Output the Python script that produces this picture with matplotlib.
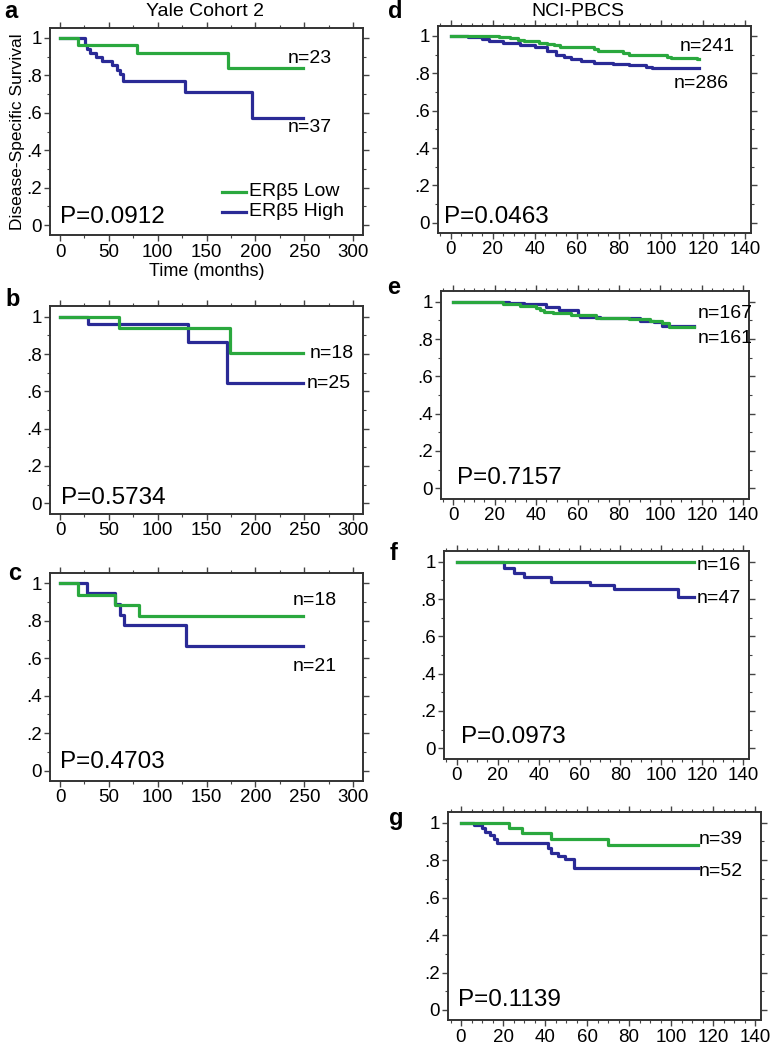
import numpy as np
import matplotlib
matplotlib.use('Agg')
import matplotlib.pyplot as plt
from matplotlib.ticker import MultipleLocator, FuncFormatter

plt.rcParams['font.family'] = ['Liberation Sans', 'DejaVu Sans']

GREEN = '#2aa83e'
BLUE = '#2a2a96'

# Kaplan-Meier step data (time in months, survival fraction)
a_low_t = [0, 18, 79, 172, 249]
a_low_s = [1.0, 0.96, 0.92, 0.84, 0.84]
a_high_t = [0, 26, 28, 31, 37, 43, 53, 58, 61, 64, 128, 197, 249]
a_high_s = [1.0, 0.965, 0.943, 0.92, 0.896, 0.875, 0.855, 0.83, 0.805, 0.772, 0.71, 0.57, 0.57]

b_low_t = [0, 60, 174, 249]
b_low_s = [1.0, 0.9375, 0.804, 0.804]
b_high_t = [0, 29, 131, 171, 249]
b_high_s = [1.0, 0.96, 0.8625, 0.646, 0.646]

c_low_t = [0, 18, 56, 81, 249]
c_low_s = [1.0, 0.938, 0.884, 0.827, 0.827]
c_high_t = [0, 28, 56, 61, 65, 129, 249]
c_high_s = [1.0, 0.947, 0.89, 0.831, 0.778, 0.667, 0.667]

d_low_t = [0, 23, 28, 32, 35, 42, 46, 49, 52, 68, 70, 82, 85, 103, 105, 117, 118]
d_low_s = [1.0, 0.995, 0.99, 0.98, 0.975, 0.965, 0.955, 0.95, 0.94, 0.93, 0.92, 0.91, 0.9, 0.89, 0.88, 0.875, 0.875]
d_high_t = [0, 8, 15, 18, 25, 33, 40, 46, 50, 54, 57, 62, 68, 77, 85, 93, 96, 118]
d_high_s = [1.0, 0.993, 0.985, 0.975, 0.962, 0.95, 0.94, 0.92, 0.9, 0.89, 0.875, 0.865, 0.858, 0.85, 0.843, 0.836, 0.826, 0.826]

e_low_t = [0, 24, 32, 40, 42, 44, 48, 57, 69, 85, 95, 101, 104, 116]
e_low_s = [1.0, 0.99, 0.976, 0.967, 0.955, 0.946, 0.937, 0.93, 0.914, 0.907, 0.896, 0.884, 0.866, 0.866]
e_high_t = [0, 27, 34, 40, 45, 51, 60, 61, 71, 90, 97, 101, 116]
e_high_s = [1.0, 0.995, 0.99, 0.985, 0.973, 0.955, 0.93, 0.92, 0.91, 0.896, 0.889, 0.872, 0.872]

f_low_t = [0, 116]
f_low_s = [1.0, 1.0]
f_high_t = [0, 23, 28, 33, 46, 65, 77, 108, 116]
f_high_s = [1.0, 0.964, 0.938, 0.916, 0.893, 0.875, 0.852, 0.8125, 0.8125]

g_low_t = [0, 23, 29, 43, 70, 113]
g_low_s = [1.0, 0.97, 0.943, 0.913, 0.88, 0.88]
g_high_t = [0, 6, 10, 11.5, 14, 15.5, 17, 41.5, 43, 46, 49.5, 54, 113]
g_high_s = [1.0, 0.988, 0.97, 0.952, 0.934, 0.911, 0.89, 0.866, 0.84, 0.822, 0.804, 0.756, 0.756]

panel_letters = ['a', 'b', 'c', 'd', 'e', 'f', 'g']
p_values = ['P=0.0912', 'P=0.5734', 'P=0.4703', 'P=0.0463', 'P=0.7157', 'P=0.0973', 'P=0.1139']
n_low = ['n=23', 'n=18', 'n=18', 'n=241', 'n=167', 'n=16', 'n=39']
n_high = ['n=37', 'n=25', 'n=21', 'n=286', 'n=161', 'n=47', 'n=52']
curves = [(a_low_t, a_low_s, a_high_t, a_high_s),
          (b_low_t, b_low_s, b_high_t, b_high_s),
          (c_low_t, c_low_s, c_high_t, c_high_s),
          (d_low_t, d_low_s, d_high_t, d_high_s),
          (e_low_t, e_low_s, e_high_t, e_high_s),
          (f_low_t, f_low_s, f_high_t, f_high_s),
          (g_low_t, g_low_s, g_high_t, g_high_s)]

W, H = 772, 1050
YLIM = (-0.055, 1.055)

# layout: pixel x of t=0, px per month, pixel y of S=1, pixel y of S=0
layout = [
    (60.0, 0.977, 38.0, 225.0),
    (60.0, 0.977, 316.7, 503.3),
    (60.0, 0.977, 583.3, 770.7),
    (450.7, 2.102, 36.0, 222.7),
    (453.3, 2.071, 301.7, 488.3),
    (456.7, 2.047, 561.7, 748.3),
    (461.0, 2.100, 822.7, 1010.0),
]
# text positions (data coords): p-value (x, y), n low (x, y), n high (x, y)
text_pos = [
    ((0, 0.043), (233, 0.893), (233, 0.52)),
    ((1, 0.028), (256, 0.804), (252, 0.643)),
    ((0, 0.048), (238, 0.906), (238, 0.557)),
    ((-3, 0.032), (109, 0.943), (106, 0.747)),
    ((1.6, 0.054), (118, 0.937), (118, 0.803)),
    ((2, 0.062), (117, 0.982), (117, 0.804)),
    ((-1.3, 0.053), (113, 0.908), (113, 0.738)),
]
letter_pos = [(11, 12), (13, 300), (15, 574), (395, 12), (394, 288), (394, 553), (396, 818)]

fig = plt.figure(figsize=(W / 100, H / 100), dpi=100)
fig.patch.set_facecolor('white')

yfmt = FuncFormatter(lambda v, p: {0: '0', 1: '1'}.get(round(v, 1), ('%.1f' % v).lstrip('0')))

for i in range(7):
    x0, pxu, y1, y0 = layout[i]
    left_col = i < 3
    xlim = (-10, 310) if left_col else (-6, 143)
    pyu = y0 - y1
    left = x0 + xlim[0] * pxu
    width = (xlim[1] - xlim[0]) * pxu
    top = y1 - (YLIM[1] - 1) * pyu
    height = (YLIM[1] - YLIM[0]) * pyu
    ax = fig.add_axes([left / W, 1 - (top + height) / H, width / W, height / H])
    ax.set_xlim(*xlim)
    ax.set_ylim(*YLIM)

    lt, ls, ht, hs = curves[i]
    ax.step(ht, hs, where='post', color=BLUE, lw=2.3, label='ER\u03b25 High')
    ax.step(lt, ls, where='post', color=GREEN, lw=2.3, label='ER\u03b25 Low')

    if left_col:
        ax.xaxis.set_major_locator(MultipleLocator(50))
        ax.xaxis.set_minor_locator(MultipleLocator(25))
    else:
        ax.xaxis.set_major_locator(MultipleLocator(20))
        ax.xaxis.set_minor_locator(MultipleLocator(5))
    ax.yaxis.set_major_locator(MultipleLocator(0.2))
    ax.yaxis.set_minor_locator(MultipleLocator(0.1))
    ax.yaxis.set_major_formatter(yfmt)
    ax.tick_params(which='both', direction='out', top=True, right=True,
                   color='#444444', labelsize=13.5, pad=2)
    ax.tick_params(which='major', length=4, width=1)
    ax.tick_params(which='minor', length=2.5, width=0.8)
    for s in ax.spines.values():
        s.set_color('#333333')
        s.set_linewidth(1.4)

    pv, nl, nh = text_pos[i]
    ax.text(pv[0], pv[1], p_values[i], fontsize=17.5, va='center', ha='left')
    ax.text(nl[0], nl[1], n_low[i], fontsize=14, va='center', ha='left')
    ax.text(nh[0], nh[1], n_high[i], fontsize=14, va='center', ha='left')

    lx, ly = letter_pos[i]
    fig.text(lx / W, 1 - ly / H, panel_letters[i], fontsize=17, fontweight='bold',
             ha='center', va='center')

    if i == 0:
        ax.plot([166, 190], [0.178, 0.178], color=GREEN, lw=2.3)
        ax.plot([166, 190], [0.071, 0.071], color=BLUE, lw=2.3)
        ax.text(193, 0.178, 'ER\u03b25 Low', fontsize=14, va='center', ha='left')
        ax.text(193, 0.071, 'ER\u03b25 High', fontsize=14, va='center', ha='left')
        ax.set_xlabel('Time (months)', fontsize=13, labelpad=2)
        ax.set_ylabel('Disease-Specific Survival', fontsize=12.5, labelpad=1)

fig.text(205 / W, 1 - 11 / H, 'Yale Cohort 2', fontsize=14, ha='center', va='center')
fig.text(578 / W, 1 - 12 / H, 'NCI-PBCS', fontsize=14, ha='center', va='center')

fig.savefig('out.png', dpi=100, facecolor='white')
